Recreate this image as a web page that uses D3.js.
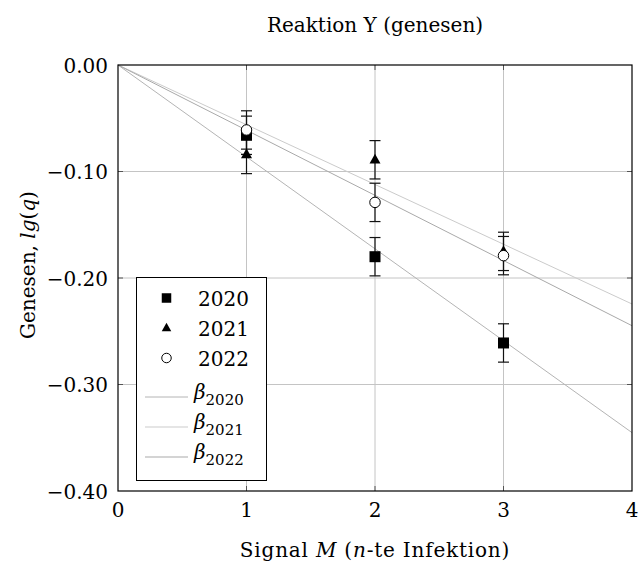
<!DOCTYPE html>
<html>
<head>
<meta charset="utf-8">
<script src="https://cdn.jsdelivr.net/npm/d3@7"></script>
<style>
  body { margin: 0; background: #fff; }
  svg text { font-family: "DejaVu Serif", "Liberation Serif", serif; fill: #000; }
</style>
</head>
<body>
<div class="chart-container"></div>
<script>
// data
var years = ['2020', '2021', '2022'];
var signals = [1, 2, 3];
var values2020 = [-0.066, -0.180, -0.261];
var values2021 = [-0.084, -0.089, -0.175];
var values2022 = [-0.061, -0.129, -0.179];
var errors = [0.018, 0.018, 0.018];
var betas = [-0.0863, -0.0561, -0.0612]; // slope of each fit line
var xTicks = [0, 1, 2, 3, 4];
var yTicks = [0, -0.1, -0.2, -0.3, -0.4];

var seriesValues = [values2020, values2021, values2022];
var markerTypes = ['square', 'triangle', 'circle'];
var fitColors = ['#b4b4b4', '#cbcbcb', '#a9a9a9'];

var width = 639;
var height = 565;
var margin = { top: 65, right: 7, bottom: 74, left: 118 };

var svg = d3.select('.chart-container').append('svg')
  .attr('width', width)
  .attr('height', height);

var x = d3.scaleLinear().domain([0, 4]).range([margin.left, width - margin.right]);
var y = d3.scaleLinear().domain([-0.4, 0]).range([height - margin.bottom, margin.top]);

// grid
svg.append('g').selectAll('line.vgrid')
  .data(xTicks.slice(1, -1))
  .enter().append('line')
    .attr('x1', function (d) { return x(d); })
    .attr('x2', function (d) { return x(d); })
    .attr('y1', y(0))
    .attr('y2', y(-0.4))
    .attr('stroke', '#c4c4c4')
    .attr('stroke-width', 1);

svg.append('g').selectAll('line.hgrid')
  .data(yTicks.slice(1, -1))
  .enter().append('line')
    .attr('x1', x(0))
    .attr('x2', x(4))
    .attr('y1', function (d) { return y(d); })
    .attr('y2', function (d) { return y(d); })
    .attr('stroke', '#c4c4c4')
    .attr('stroke-width', 1);

// inner tick marks
var tickLen = 5;
xTicks.slice(1, -1).forEach(function (t) {
  [[y(-0.4), -tickLen], [y(0), tickLen]].forEach(function (p) {
    svg.append('line')
      .attr('x1', x(t)).attr('x2', x(t))
      .attr('y1', p[0]).attr('y2', p[0] + p[1])
      .attr('stroke', '#555');
  });
});
yTicks.slice(1, -1).forEach(function (t) {
  [[x(0), tickLen], [x(4), -tickLen]].forEach(function (p) {
    svg.append('line')
      .attr('y1', y(t)).attr('y2', y(t))
      .attr('x1', p[0]).attr('x2', p[0] + p[1])
      .attr('stroke', '#555');
  });
});

// fit lines through the origin
var line = d3.line()
  .x(function (d) { return x(d[0]); })
  .y(function (d) { return y(d[1]); });

svg.append('g').selectAll('path.fit')
  .data(betas)
  .enter().append('path')
    .attr('class', 'fit')
    .attr('fill', 'none')
    .attr('stroke', function (d, i) { return fitColors[i]; })
    .attr('stroke-width', 1)
    .attr('d', function (d) { return line([[0, 0], [4, 4 * d]]); });

// marker drawing
function drawMarker(g, type, cx, cy, s) {
  if (type === 'square') {
    g.append('rect')
      .attr('x', cx - s / 2).attr('y', cy - s / 2)
      .attr('width', s).attr('height', s)
      .attr('fill', '#000');
  } else if (type === 'triangle') {
    var h = s * 0.9;
    g.append('path')
      .attr('d', 'M' + cx + ',' + (cy - h * 0.62) +
        'L' + (cx + s / 2) + ',' + (cy + h * 0.38) +
        'L' + (cx - s / 2) + ',' + (cy + h * 0.38) + 'Z')
      .attr('fill', '#000');
  } else {
    g.append('circle')
      .attr('cx', cx).attr('cy', cy).attr('r', s / 2)
      .attr('fill', '#fff')
      .attr('stroke', '#000')
      .attr('stroke-width', 1);
  }
}

// error bars and markers
var capW = 5.5;
seriesValues.forEach(function (vals) {
  var g = svg.append('g');
  vals.forEach(function (v, i) {
    var cx = x(signals[i]);
    var top = y(v + errors[i]);
    var bot = y(v - errors[i]);
    g.append('line')
      .attr('x1', cx).attr('x2', cx).attr('y1', top).attr('y2', bot)
      .attr('stroke', '#111').attr('stroke-width', 1.2);
    [top, bot].forEach(function (yy) {
      g.append('line')
        .attr('x1', cx - capW).attr('x2', cx + capW)
        .attr('y1', yy).attr('y2', yy)
        .attr('stroke', '#111').attr('stroke-width', 1.2);
    });
  });
});
seriesValues.forEach(function (vals, si) {
  var g = svg.append('g');
  vals.forEach(function (v, i) {
    drawMarker(g, markerTypes[si], x(signals[i]), y(v), si === 2 ? 10.5 : 11);
  });
});

// frame
svg.append('rect')
  .attr('x', x(0)).attr('y', y(0))
  .attr('width', x(4) - x(0)).attr('height', y(-0.4) - y(0))
  .attr('fill', 'none')
  .attr('stroke', '#000')
  .attr('stroke-width', 1.2);

// tick labels
svg.append('g').selectAll('text')
  .data(xTicks)
  .enter().append('text')
    .attr('x', function (d) { return x(d); })
    .attr('y', y(-0.4) + 26)
    .attr('text-anchor', 'middle')
    .attr('font-size', 20)
    .text(function (d) { return d; });

svg.append('g').selectAll('text')
  .data(yTicks)
  .enter().append('text')
    .attr('x', x(0) - 10)
    .attr('y', function (d) { return y(d) + 7.5; })
    .attr('text-anchor', 'end')
    .attr('font-size', 20)
    .text(function (d) { return d3.format('.2f')(d).replace('-', '\u2212'); });

// title and axis labels
svg.append('text')
  .attr('x', x(2)).attr('y', 32)
  .attr('text-anchor', 'middle')
  .attr('font-size', 20)
  .text('Reaktion Y (genesen)');

var xl = svg.append('text')
  .attr('x', x(2)).attr('y', 557)
  .attr('text-anchor', 'middle')
  .attr('font-size', 20)
  .attr('letter-spacing', 0.8);
xl.append('tspan').text('Signal ');
xl.append('tspan').attr('font-style', 'italic').text('M');
xl.append('tspan').text('  (');
xl.append('tspan').attr('font-style', 'italic').text('n');
xl.append('tspan').text('-te Infektion)');

var yl = svg.append('text')
  .attr('transform', 'translate(35,' + 265 + ') rotate(-90)')
  .attr('text-anchor', 'middle')
  .attr('font-size', 20);
yl.append('tspan').text('Genesen, ');
yl.append('tspan').attr('font-style', 'italic').text('lg');
yl.append('tspan').text('(');
yl.append('tspan').attr('font-style', 'italic').text('q');
yl.append('tspan').text(')');

// legend
var legend = svg.append('g');
legend.append('rect')
  .attr('x', 136.5).attr('y', 277.5)
  .attr('width', 130).attr('height', 203)
  .attr('fill', '#fff')
  .attr('stroke', '#000')
  .attr('stroke-width', 1);

var legendRows = [298, 328, 358, 396, 426, 456];
years.forEach(function (yr, i) {
  drawMarker(legend, markerTypes[i], 166.5, legendRows[i], 9.5);
  legend.append('text')
    .attr('x', 198).attr('y', legendRows[i] + 7.5)
    .attr('font-size', 20)
    .text(yr);
});
years.forEach(function (yr, i) {
  var ry = legendRows[i + 3];
  legend.append('line')
    .attr('x1', 145).attr('x2', 188)
    .attr('y1', ry + 1).attr('y2', ry + 1)
    .attr('stroke', fitColors[i]).attr('stroke-width', 1);
  var t = legend.append('text')
    .attr('x', 194).attr('y', ry + 3)
    .attr('font-size', 20);
  t.append('tspan').attr('font-style', 'italic').text('\u03b2');
  t.append('tspan').attr('font-size', 15).attr('dy', 6).text(yr);
});
</script>
</body>
</html>
